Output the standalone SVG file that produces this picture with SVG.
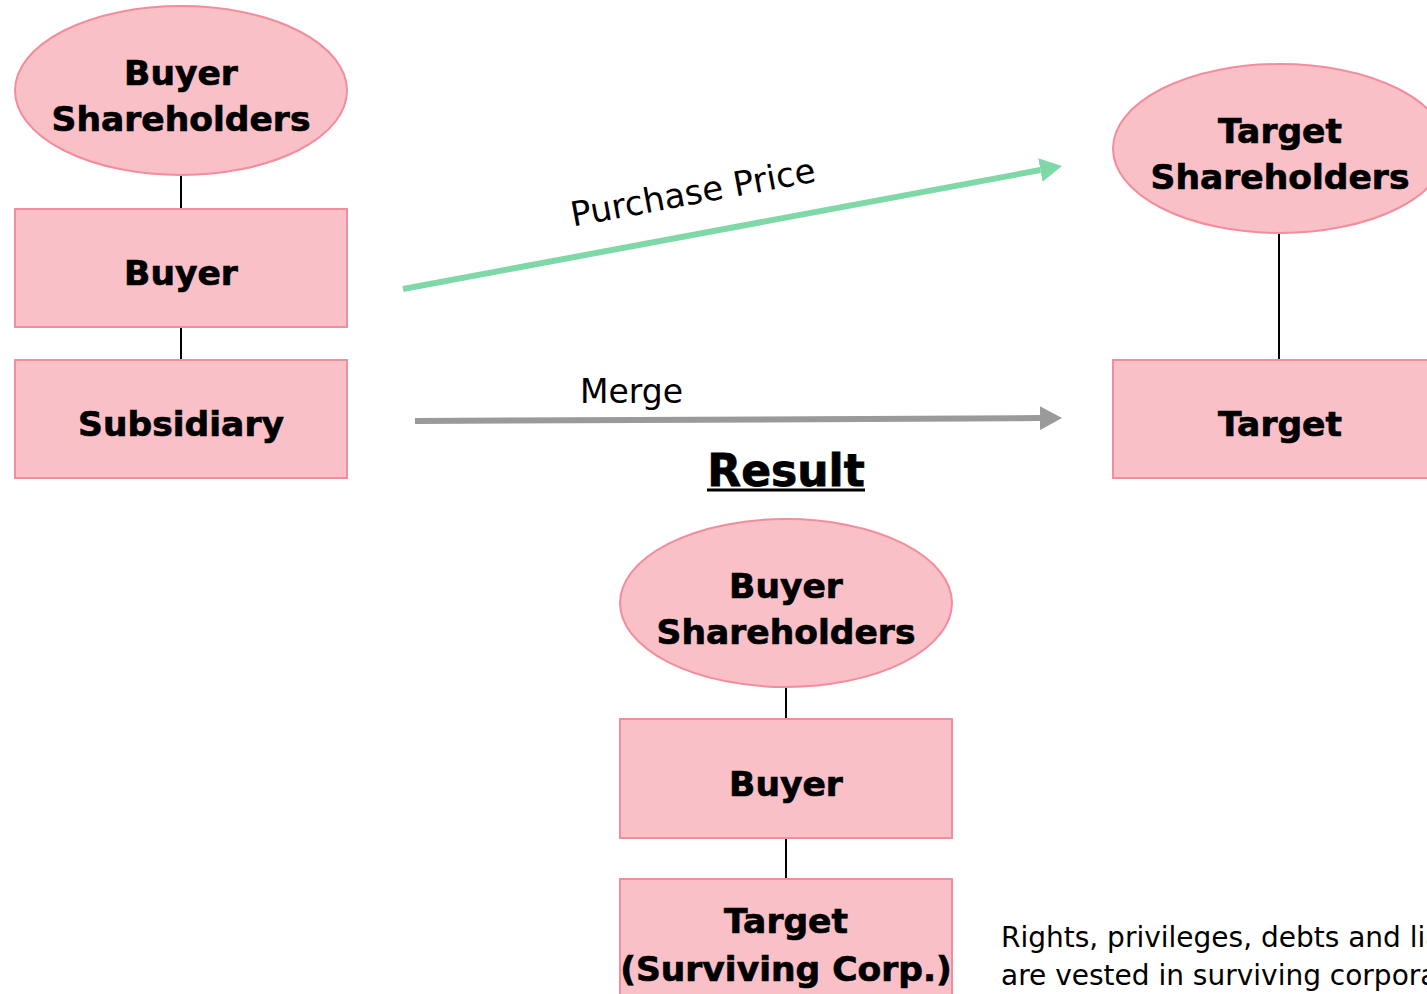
<svg xmlns="http://www.w3.org/2000/svg" width="1427" height="994" viewBox="0 0 1427 994">
  <style>
    .box { fill: #f9c0c7; stroke: #f28d9b; stroke-width: 2; }
    .lbl { font-family: "DejaVu Sans", Verdana, sans-serif; font-weight: bold; font-size: 34.5px; fill: #000; stroke: #000; stroke-width: 0.7; text-anchor: middle; }
    .tie { stroke: #000; stroke-width: 2; fill: none; }
    .txt { font-family: "DejaVu Sans", Verdana, sans-serif; fill: #000; }
  </style>
  <defs>
    <marker id="headGreen" viewBox="0 0 22 24" refX="0" refY="12" markerWidth="22" markerHeight="24" markerUnits="userSpaceOnUse" orient="auto">
      <path d="M0,0 L22,12 L0,24 z" fill="#7fd8a7"/>
    </marker>
    <marker id="headGray" viewBox="0 0 22 24" refX="0" refY="12" markerWidth="22" markerHeight="24" markerUnits="userSpaceOnUse" orient="auto">
      <path d="M0,0 L22,12 L0,24 z" fill="#9a9a9a"/>
    </marker>
  </defs>

  <rect width="1427" height="994" fill="#ffffff"/>

  <!-- ownership ties and transaction arrows -->
  <g id="connectors">
    <line class="tie" x1="181" y1="175" x2="181" y2="209"/>
    <line class="tie" x1="181" y1="327" x2="181" y2="360"/>
    <line class="tie" x1="1279" y1="233" x2="1279" y2="360"/>
    <line class="tie" x1="786" y1="687" x2="786" y2="719"/>
    <line class="tie" x1="786" y1="838" x2="786" y2="879"/>
    <line x1="403" y1="289" x2="1040.4" y2="170" stroke="#7fd8a7" stroke-width="6" marker-end="url(#headGreen)"/>
    <line x1="415" y1="421" x2="1040" y2="418.1" stroke="#9a9a9a" stroke-width="6" marker-end="url(#headGray)"/>
    <text class="txt" font-size="34" text-anchor="middle" transform="translate(695 204) rotate(-10.5)">Purchase Price</text>
    <text class="txt" font-size="33" x="580" y="403">Merge</text>
  </g>

  <!-- before the merger: buyer side -->
  <g id="buyer-shareholders">
    <ellipse class="box" cx="181" cy="90.5" rx="166" ry="84.5"/>
    <text class="lbl" x="181" y="85">Buyer</text>
    <text class="lbl" x="181" y="131">Shareholders</text>
  </g>
  <g id="buyer">
    <rect class="box" x="15" y="209" width="332" height="118"/>
    <text class="lbl" x="181" y="285">Buyer</text>
  </g>
  <g id="subsidiary">
    <rect class="box" x="15" y="360" width="332" height="118"/>
    <text class="lbl" x="181" y="436">Subsidiary</text>
  </g>

  <!-- before the merger: target side -->
  <g id="target-shareholders">
    <ellipse class="box" cx="1280" cy="148.5" rx="167" ry="84.5"/>
    <text class="lbl" x="1280" y="143">Target</text>
    <text class="lbl" x="1280" y="189">Shareholders</text>
  </g>
  <g id="target">
    <rect class="box" x="1113" y="360" width="334" height="118"/>
    <text class="lbl" x="1280" y="436">Target</text>
  </g>

  <!-- after the merger -->
  <g id="result-heading">
    <text class="txt" font-size="44" font-weight="bold" stroke="#000" stroke-width="0.8" text-anchor="middle" x="786" y="486">Result</text>
    <line x1="707" y1="490" x2="865" y2="490" stroke="#000" stroke-width="3"/>
  </g>
  <g id="result-buyer-shareholders">
    <ellipse class="box" cx="786" cy="603" rx="166" ry="84"/>
    <text class="lbl" x="786" y="598">Buyer</text>
    <text class="lbl" x="786" y="644">Shareholders</text>
  </g>
  <g id="result-buyer">
    <rect class="box" x="620" y="719" width="332" height="119"/>
    <text class="lbl" x="786" y="796">Buyer</text>
  </g>
  <g id="result-target">
    <rect class="box" x="620" y="879" width="332" height="130"/>
    <text class="lbl" x="786" y="933">Target</text>
    <text class="lbl" x="786" y="981">(Surviving Corp.)</text>
  </g>

  <g id="note">
    <text class="txt" font-size="28" x="1001" y="947">Rights, privileges, debts and liabilities</text>
    <text class="txt" font-size="28" x="1001" y="985">are vested in surviving corporation</text>
  </g>
</svg>
